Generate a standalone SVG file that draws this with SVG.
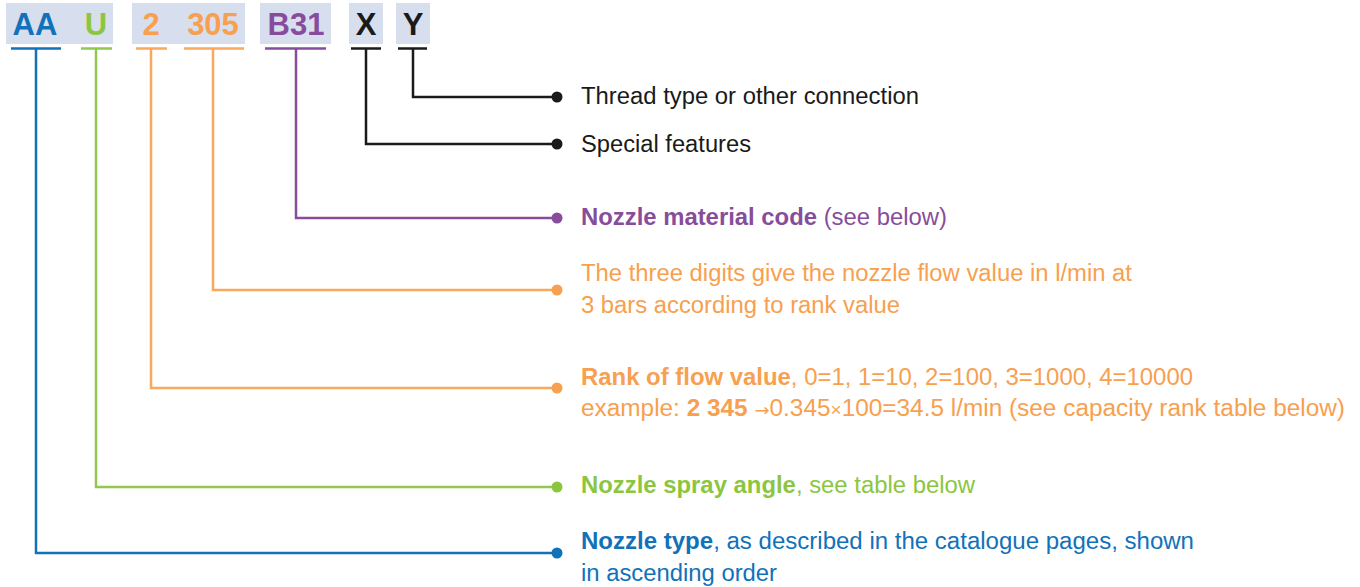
<svg xmlns="http://www.w3.org/2000/svg" width="1360" height="587" viewBox="0 0 1360 587">
<style>
.box{fill:#D7DFEF}
.code{font-family:"Liberation Sans",Arial,sans-serif;font-weight:bold;font-size:31px;text-anchor:middle}
.t{font-family:"Liberation Sans",Arial,sans-serif;font-size:23px}
.b{font-weight:bold}
.ln{fill:none;stroke-width:2.5}
.blue{fill:#1172B9}.green{fill:#8CC63F}.orange{fill:#F7A04F}.purple{fill:#874D9C}.black{fill:#1A1A1A}
.sblue{stroke:#1172B9}.sgreen{stroke:#93C850}.sorange{stroke:#F9A95E}.spurple{stroke:#874D9C}.sblack{stroke:#1A1A1A}
</style>
<g id="code">
<rect class="box" x="6" y="3" width="107" height="41"/>
<rect class="box" x="132" y="3" width="113" height="41"/>
<rect class="box" x="260" y="3" width="71" height="41"/>
<rect class="box" x="349" y="3" width="34" height="41"/>
<rect class="box" x="396" y="3" width="34" height="41"/>
<text class="code blue" x="35" y="35">AA</text>
<text class="code green" x="96" y="35">U</text>
<text class="code orange" x="151" y="35">2</text>
<text class="code orange" x="213" y="35">305</text>
<text class="code purple" x="296" y="35">B31</text>
<text class="code black" x="366" y="35">X</text>
<text class="code black" x="413" y="35">Y</text>
</g>
<g id="connectors">
<path class="ln sblue" d="M11 48.5H61M36 48.5V553H557"/>
<path class="ln sgreen" d="M81 48.5H112M96 48.5V487H557"/>
<path class="ln sorange" d="M136 48.5H167M151 48.5V388H557"/>
<path class="ln sorange" d="M184 48.5H244M213 48.5V290H557"/>
<path class="ln spurple" d="M265 48.5H326M296 48.5V218H557"/>
<path class="ln sblack" d="M351 48.5H381M366 48.5V144H557"/>
<path class="ln sblack" d="M398 48.5H427M413 48.5V97H557"/>
<circle class="blue" cx="557" cy="553" r="5.5"/>
<circle class="green" cx="557" cy="487" r="5.5"/>
<circle class="orange" cx="557" cy="388" r="5.5"/>
<circle class="orange" cx="557" cy="290" r="5.5"/>
<circle class="purple" cx="557" cy="218" r="5.5"/>
<circle class="black" cx="557" cy="144" r="5.5"/>
<circle class="black" cx="557" cy="97" r="5.5"/>
</g>
<g id="label-thread"><text class="t black" x="581" y="104" textLength="338" lengthAdjust="spacingAndGlyphs">Thread type or other connection</text></g>
<g id="label-special"><text class="t black" x="581" y="152" textLength="170" lengthAdjust="spacingAndGlyphs">Special features</text></g>
<g id="label-material"><text class="t purple" x="581" y="225" textLength="366" lengthAdjust="spacingAndGlyphs"><tspan class="b">Nozzle material code</tspan> (see below)</text></g>
<g id="label-flow"><text class="t orange" x="581" y="281" textLength="551" lengthAdjust="spacingAndGlyphs">The three digits give the nozzle flow value in l/min at</text><text class="t orange" x="581" y="313" textLength="319" lengthAdjust="spacingAndGlyphs">3 bars according to rank value</text></g>
<g id="label-rank"><text class="t orange" x="581" y="385" textLength="612" lengthAdjust="spacingAndGlyphs"><tspan class="b">Rank of flow value</tspan>, 0=1, 1=10, 2=100, 3=1000, 4=10000</text><text class="t orange" x="581" y="416" textLength="764" lengthAdjust="spacingAndGlyphs">example: <tspan class="b">2 345</tspan> <tspan font-family="'DejaVu Sans',sans-serif" font-size="17">→</tspan>0.345<tspan font-size="18">×</tspan>100=34.5 l/min (see capacity rank table below)</text></g>
<g id="label-angle"><text class="t green" x="581" y="493" textLength="394" lengthAdjust="spacingAndGlyphs"><tspan class="b">Nozzle spray angle</tspan>, see table below</text></g>
<g id="label-type"><text class="t blue" x="581" y="549" textLength="613" lengthAdjust="spacingAndGlyphs"><tspan class="b">Nozzle type</tspan>, as described in the catalogue pages, shown</text><text class="t blue" x="581" y="581" textLength="196" lengthAdjust="spacingAndGlyphs">in ascending order</text></g>
</svg>
